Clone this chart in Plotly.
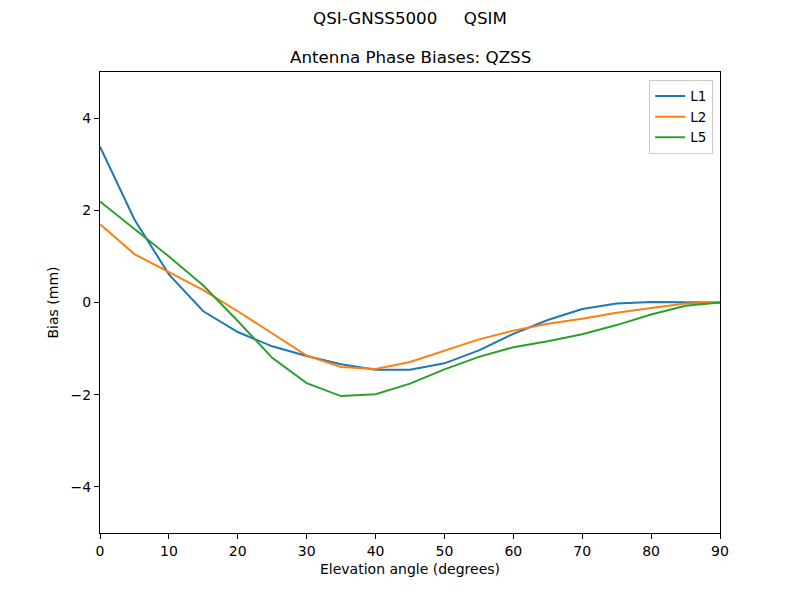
import plotly.graph_objects as go

# elevacion (grados)
elevacion = [0, 5, 10, 15, 20, 25, 30, 35, 40, 45, 50, 55, 60, 65, 70, 75, 80, 85, 90]

# sesgos de fase (mm) por frecuencia
sesgo_l1 = [3.38, 1.80, 0.61, -0.19, -0.64, -0.95, -1.16, -1.34, -1.46, -1.46,
            -1.32, -1.04, -0.68, -0.38, -0.14, -0.02, 0.01, 0.00, 0.00]
sesgo_l2 = [1.70, 1.05, 0.66, 0.27, -0.19, -0.67, -1.15, -1.40, -1.44, -1.29,
            -1.04, -0.80, -0.61, -0.46, -0.35, -0.22, -0.12, -0.02, 0.00]
sesgo_l5 = [2.19, 1.59, 1.00, 0.37, -0.40, -1.20, -1.75, -2.03, -1.99, -1.76,
            -1.45, -1.18, -0.97, -0.84, -0.69, -0.49, -0.26, -0.07, 0.00]

series = [("L1", sesgo_l1, "#1f77b4"), ("L2", sesgo_l2, "#ff7f0e"), ("L5", sesgo_l5, "#2ca02c")]

fig = go.Figure()
for nombre, valores, color in series:
    fig.add_trace(go.Scatter(x=elevacion, y=valores, mode="lines", name=nombre,
                             line=dict(color=color, width=2)))

ejes = dict(showline=True, linecolor="black", linewidth=1, mirror=True,
            ticks="outside", ticklen=5, tickcolor="black", showgrid=False,
            zeroline=False, tickfont=dict(size=14, color="black"))

# la pagina tiene 8px de margen en el body, se compensa aqui
fig.update_layout(
    width=800, height=600,
    font=dict(family="DejaVu Sans", size=14, color="black"),
    paper_bgcolor="white", plot_bgcolor="white",
    margin=dict(l=92, r=88, t=64, b=75),
    showlegend=True,
    legend=dict(x=0.989, y=0.983, xanchor="right", yanchor="top",
                bordercolor="#cccccc", borderwidth=1, bgcolor="white",
                font=dict(size=13.5), itemwidth=30),
    annotations=[
        dict(text="QSI-GNSS5000\u00a0\u00a0\u00a0\u00a0\u00a0QSIM", x=0.5, xref="paper",
             y=1 + (72 - 18) / 461, yref="paper", yanchor="middle",
             showarrow=False, font=dict(size=16.7)),
        dict(text="Antenna Phase Biases: QZSS", x=0.5, y=1.0, xref="paper", yref="paper",
             yanchor="bottom", yshift=3, showarrow=False, font=dict(size=16.7)),
    ],
)

fig.update_xaxes(range=[0, 90], dtick=10,
                 title=dict(text="Elevation angle (degrees)", standoff=6, font=dict(size=14)), **ejes)
fig.update_yaxes(range=[-5, 5], tickvals=[-4, -2, 0, 2, 4],
                 title=dict(text="Bias (mm)", standoff=8, font=dict(size=14)), **ejes)

fig.write_html("out.html")
